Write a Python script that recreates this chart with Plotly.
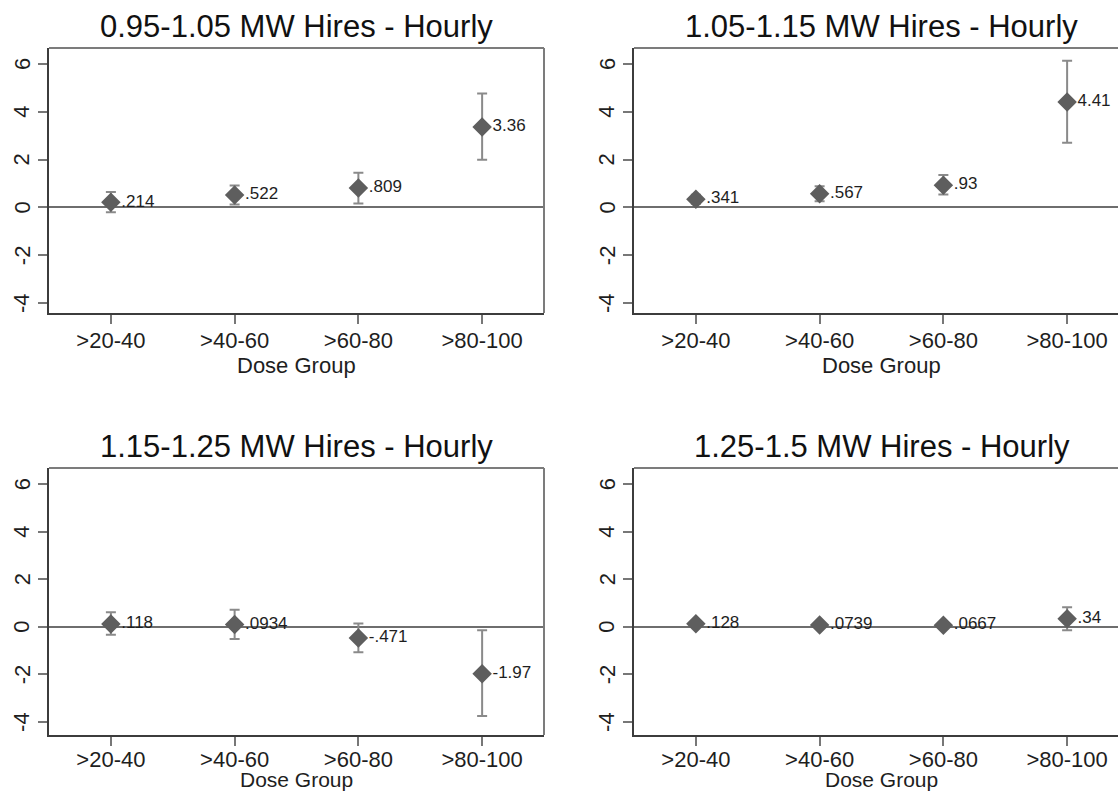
import plotly.graph_objects as go

categories = [">20-40", ">40-60", ">60-80", ">80-100"]
x_pos = [1, 2, 3, 4]
y_ticks = [-4, -2, 0, 2, 4, 6]
y_ticktext = ["-4", "-2", "0", "2", "4", "6"]
x_title = "Dose Group"

titles = [
    "0.95-1.05 MW Hires - Hourly",
    "1.05-1.15 MW Hires - Hourly",
    "1.15-1.25 MW Hires - Hourly",
    "1.25-1.5 MW Hires - Hourly",
]

est_p1 = [0.214, 0.522, 0.809, 3.36]
lo_p1 = [-0.20, 0.12, 0.16, 1.99]
hi_p1 = [0.64, 0.92, 1.45, 4.77]
lab_p1 = [".214", ".522", ".809", "3.36"]

est_p2 = [0.341, 0.567, 0.93, 4.41]
lo_p2 = [0.15, 0.26, 0.54, 2.70]
hi_p2 = [0.53, 0.88, 1.36, 6.14]
lab_p2 = [".341", ".567", ".93", "4.41"]

est_p3 = [0.118, 0.0934, -0.471, -1.97]
lo_p3 = [-0.33, -0.51, -1.07, -3.75]
hi_p3 = [0.61, 0.72, 0.14, -0.14]
lab_p3 = [".118", ".0934", "-.471", "-1.97"]

est_p4 = [0.128, 0.0739, 0.0667, 0.34]
lo_p4 = [0.00, -0.05, -0.06, -0.14]
hi_p4 = [0.26, 0.20, 0.19, 0.82]
lab_p4 = [".128", ".0739", ".0667", ".34"]

panels = [
    (est_p1, lo_p1, hi_p1, lab_p1),
    (est_p2, lo_p2, hi_p2, lab_p2),
    (est_p3, lo_p3, hi_p3, lab_p3),
    (est_p4, lo_p4, hi_p4, lab_p4),
]

W, H = 1118, 794
FONT = "Liberation Sans, Arial, Helvetica, sans-serif"
MARK = "#5e5e5e"
ERR = "#8a8a8a"
AXIS = "#3c3c3c"
BOX = "#7c7c7c"
TXT = "#1e1e1e"

# pixel geometry of panels (left, right, top, bottom)
geo = [
    (49, 544, 48, 313),
    (634, 1129, 48, 313),
    (49, 544, 468, 735),
    (634, 1129, 468, 735),
]
YR_TOP = [-4.42, 6.67]
YR_BOT = [-4.55, 6.68]

fig = go.Figure()
shapes = []
annotations = []

for i, ((est, lo, hi, lab), (l, r, t, b)) in enumerate(zip(panels, geo)):
    n = i + 1
    top_row = i < 2
    xa = "x" if n == 1 else f"x{n}"
    ya = "y" if n == 1 else f"y{n}"
    xkey = "xaxis" if n == 1 else f"xaxis{n}"
    ykey = "yaxis" if n == 1 else f"yaxis{n}"
    plus = [h - e for h, e in zip(hi, est)]
    minus = [e - lo_ for e, lo_ in zip(est, lo)]
    fig.add_trace(go.Scatter(
        x=x_pos, y=est, mode="markers+text", xaxis=xa, yaxis=ya,
        text=lab, textposition="middle right",
        textfont=dict(family=FONT, size=17, color=TXT),
        marker=dict(symbol="diamond", size=15, color=MARK, line=dict(width=0)),
        error_y=dict(type="data", symmetric=False, array=plus, arrayminus=minus,
                     color=ERR, thickness=2, width=5),
        showlegend=False, cliponaxis=False,
    ))
    r_vis = min(r, W)
    px_per_unit = (r - l) / 4.0
    xmax = 0.5 + (r_vis - l) / px_per_unit
    fig.layout[xkey] = dict(
        domain=[l / W, r_vis / W], range=[0.5, xmax], anchor=ya,
        tickmode="array", tickvals=x_pos, ticktext=categories,
        ticks="outside", ticklen=9, tickwidth=1.5, tickcolor="#777777",
        tickfont=dict(family=FONT, size=22, color=TXT),
        ticklabelstandoff=-2 if top_row else -5,
        showline=True, linecolor=AXIS, linewidth=2, mirror=False,
        showgrid=False, zeroline=False, fixedrange=True,
    )
    yr = YR_TOP if top_row else YR_BOT
    fig.layout[ykey] = dict(
        domain=[1 - b / H, 1 - t / H], range=yr, anchor=xa,
        tickmode="array", tickvals=y_ticks, showticklabels=False,
        ticks="outside", ticklen=9, tickwidth=1.5, tickcolor="#777777",
        showline=True, linecolor=AXIS, linewidth=2, mirror=False,
        showgrid=False, zeroline=True, zerolinecolor="#6e6e6e", zerolinewidth=2,
        fixedrange=True,
    )
    # rotated y tick labels (Stata style)
    for v, tt in zip(y_ticks, y_ticktext):
        annotations.append(dict(
            text=tt, xref="paper", yref=ya, x=(l - 27) / W, y=v,
            xanchor="center", yanchor="middle", textangle=-90, showarrow=False,
            font=dict(family=FONT, size=22, color=TXT),
        ))
    # x axis title
    annotations.append(dict(
        text=x_title, xref="paper", yref="paper",
        x=((l + r) / 2) / W, y=1 - ((b + 52) if top_row else (H - 1)) / H,
        xanchor="center", yanchor="middle" if top_row else "bottom",
        showarrow=False, font=dict(family=FONT, size=22 if top_row else 21, color=TXT),
    ))
    # top border
    shapes.append(dict(type="line", xref="paper", yref="paper",
                       x0=l / W, x1=r_vis / W, y0=1 - t / H, y1=1 - t / H,
                       line=dict(color=BOX, width=2)))
    if r <= W:
        shapes.append(dict(type="line", xref="paper", yref="paper",
                           x0=r / W, x1=r / W, y0=1 - b / H, y1=1 - t / H,
                           line=dict(color=BOX, width=2)))
    annotations.append(dict(
        text=titles[i], xref="paper", yref="paper",
        x=((l + r) / 2) / W, y=1 - (t - 2) / H, xanchor="center", yanchor="bottom",
        showarrow=False, font=dict(family=FONT, size=31, color="#111111"),
    ))

fig.update_layout(
    width=W, height=H, margin=dict(l=0, r=0, t=0, b=0),
    paper_bgcolor="white", plot_bgcolor="white",
    shapes=shapes, annotations=annotations,
)

fig.write_html("out.html")
